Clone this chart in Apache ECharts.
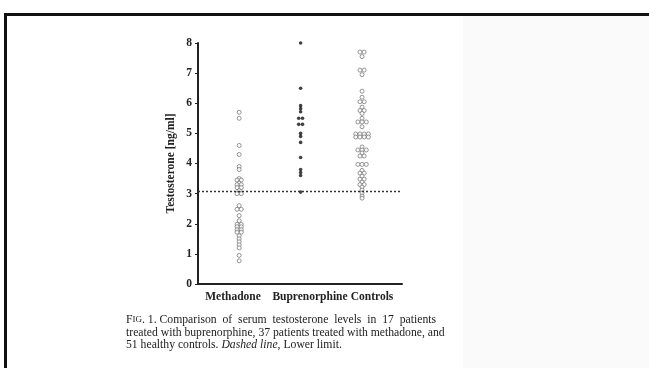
<!DOCTYPE html>
<html>
<head>
<meta charset="utf-8">
<script src="https://cdn.jsdelivr.net/npm/echarts@6/dist/echarts.min.js"></script>
<style>
  html, body { margin: 0; padding: 0; background: #fff; }
  #chart { width: 649px; height: 368px; }
</style>
</head>
<body>
<div id="chart"></div>
<script>
// Groups and their serum testosterone values (ng/ml)
const categories = ['Methadone', 'Buprenorphine', 'Controls'];

const methadone = [
  5.7, 5.5, 4.6, 4.3, 3.9, 3.8,
  3.5, 3.45, 3.45, 3.35, 3.3, 3.3, 3.2, 3.2, 3.1, 3.0, 3.0,
  2.6, 2.48, 2.48, 2.27, 2.1,
  1.98, 1.98, 1.9, 1.9, 1.8, 1.8, 1.72, 1.72,
  1.6, 1.5, 1.4, 1.3, 1.2, 0.95, 0.77
];

const buprenorphine = [
  8.0, 6.5, 5.92, 5.82, 5.72, 5.5, 5.5, 5.3, 5.3,
  5.0, 4.9, 4.7, 4.2, 3.8, 3.7, 3.6, 3.05
];

const controls = [
  7.7, 7.7, 7.55, 7.1, 7.1, 6.95, 6.4,
  6.2, 6.05, 6.05, 5.87, 5.76, 5.76, 5.66,
  5.5, 5.38, 5.38, 5.38, 5.22,
  4.98, 4.98, 4.98, 4.98, 4.88, 4.88, 4.88, 4.88,
  4.55, 4.45, 4.45, 4.45, 4.35, 4.25, 4.25,
  3.97, 3.97, 3.97,
  3.77, 3.68, 3.68, 3.58, 3.48, 3.48, 3.38, 3.3, 3.3, 3.22,
  3.12, 3.02, 2.92, 2.85
];

const yTicks = [0, 1, 2, 3, 4, 5, 6, 7, 8];
const lowerLimit = 3.07;

const captionLines = [
  'Comparison  of  serum  testosterone  levels  in  17  patients',
  'treated with buprenorphine, 37 patients treated with methadone, and',
  '51 healthy controls.'
];

// Dot-plot layout: equal values sit side by side around the column centre
function column(values, pos, gap) {
  const counts = {};
  values.forEach(v => { counts[v] = (counts[v] || 0) + 1; });
  const seen = {};
  return values.map(v => {
    const n = counts[v];
    const i = seen[v] || 0;
    seen[v] = i + 1;
    return { value: [pos, v], symbolOffset: [(i - (n - 1) / 2) * gap, 0] };
  });
}

const serif = '"Liberation Serif", "DejaVu Serif", serif';
const capSize = 11.7;
const chart = echarts.init(document.getElementById('chart'));

const openDot = {
  type: 'scatter', symbol: 'circle', symbolSize: 4,
  itemStyle: { color: '#fff', borderColor: '#7a7a7a', borderWidth: 1 },
  xAxisIndex: 0, yAxisIndex: 0, z: 3, silent: true
};

const catStyle = pad => ({ fontFamily: serif, fontWeight: 'bold', fontSize: 11.5, color: '#222', padding: [0, 0, 0, pad] });

chart.setOption({
  animation: false,
  backgroundColor: '#fff',
  grid: { left: 198, right: 247, top: 43, bottom: 84, containLabel: false },
  xAxis: [
    {
      type: 'value', min: 0.33, max: 3.65,
      axisLine: { show: true, onZero: false, lineStyle: { color: '#222', width: 2 } },
      axisTick: { show: false }, axisLabel: { show: false }, splitLine: { show: false }
    },
    {
      type: 'category', data: categories, position: 'bottom', boundaryGap: true,
      axisLine: { show: false }, axisTick: { show: false }, splitLine: { show: false },
      axisLabel: {
        margin: 7, interval: 0, hideOverlap: false,
        formatter: (v, i) => '{c' + i + '|' + v + '}',
        rich: { c0: catStyle(2), c1: catStyle(20), c2: catStyle(8) }
      }
    }
  ],
  yAxis: {
    type: 'value', min: yTicks[0], max: yTicks[yTicks.length - 1], interval: 1,
    name: 'Testosterone [ng/ml]', nameLocation: 'middle', nameGap: 21,
    nameTextStyle: { fontFamily: serif, fontWeight: 'bold', fontSize: 11.5, color: '#222' },
    axisLine: { show: true, lineStyle: { color: '#222', width: 2 } },
    axisTick: { show: true, length: 3, lineStyle: { color: '#222', width: 1 } },
    axisLabel: { margin: 6, fontFamily: serif, fontWeight: 'bold', fontSize: 11.5, color: '#222' },
    splitLine: { show: false }
  },
  series: [
    Object.assign({}, openDot, {
      name: categories[0], data: column(methadone, 1, 4.2),
      markLine: {
        silent: true, symbol: ['none', 'none'], label: { show: false },
        lineStyle: { type: [2, 2], color: '#333', width: 1.3 },
        data: [{ yAxis: lowerLimit }]
      }
    }),
    {
      type: 'scatter', name: categories[1], symbol: 'circle', symbolSize: 3.6,
      itemStyle: { color: '#111' }, xAxisIndex: 0, yAxisIndex: 0, z: 4, silent: true,
      data: column(buprenorphine, 2, 3.8)
    },
    Object.assign({}, openDot, { name: categories[2], data: column(controls, 3, 4.2) })
  ],
  graphic: [
    // faint page shading on the right
    { type: 'rect', shape: { x: 463, y: 16, width: 186, height: 352 }, style: { fill: '#fafafa' }, z: -10, silent: true },
    // scanned frame edges
    { type: 'line', shape: { x1: 4, y1: 14.5, x2: 649, y2: 14.5 }, style: { stroke: '#111', lineWidth: 3 }, silent: true },
    { type: 'line', shape: { x1: 5.5, y1: 13, x2: 5.5, y2: 368 }, style: { stroke: '#111', lineWidth: 3 }, silent: true },
    // caption
    {
      type: 'text', left: 126, top: 314, silent: true,
      style: {
        text: '{sc|F}{sm|IG}{sc|. 1.} ' + captionLines[0],
        rich: {
          sc: { fontFamily: serif, fontSize: capSize, fill: '#222' },
          sm: { fontFamily: serif, fontSize: 9, fill: '#222' }
        },
        font: capSize + 'px ' + serif, fill: '#222'
      }
    },
    {
      type: 'text', left: 126, top: 326.5, silent: true,
      style: { text: captionLines[1], font: capSize + 'px ' + serif, fill: '#222' }
    },
    {
      type: 'text', left: 126, top: 338.5, silent: true,
      style: {
        text: '{n|' + captionLines[2] + ' }{i|Dashed line}{n|, Lower limit.}',
        rich: {
          n: { fontFamily: serif, fontSize: capSize, fill: '#222' },
          i: { fontFamily: serif, fontSize: capSize, fontStyle: 'italic', fill: '#222' }
        }
      }
    }
  ]
});
</script>
</body>
</html>
